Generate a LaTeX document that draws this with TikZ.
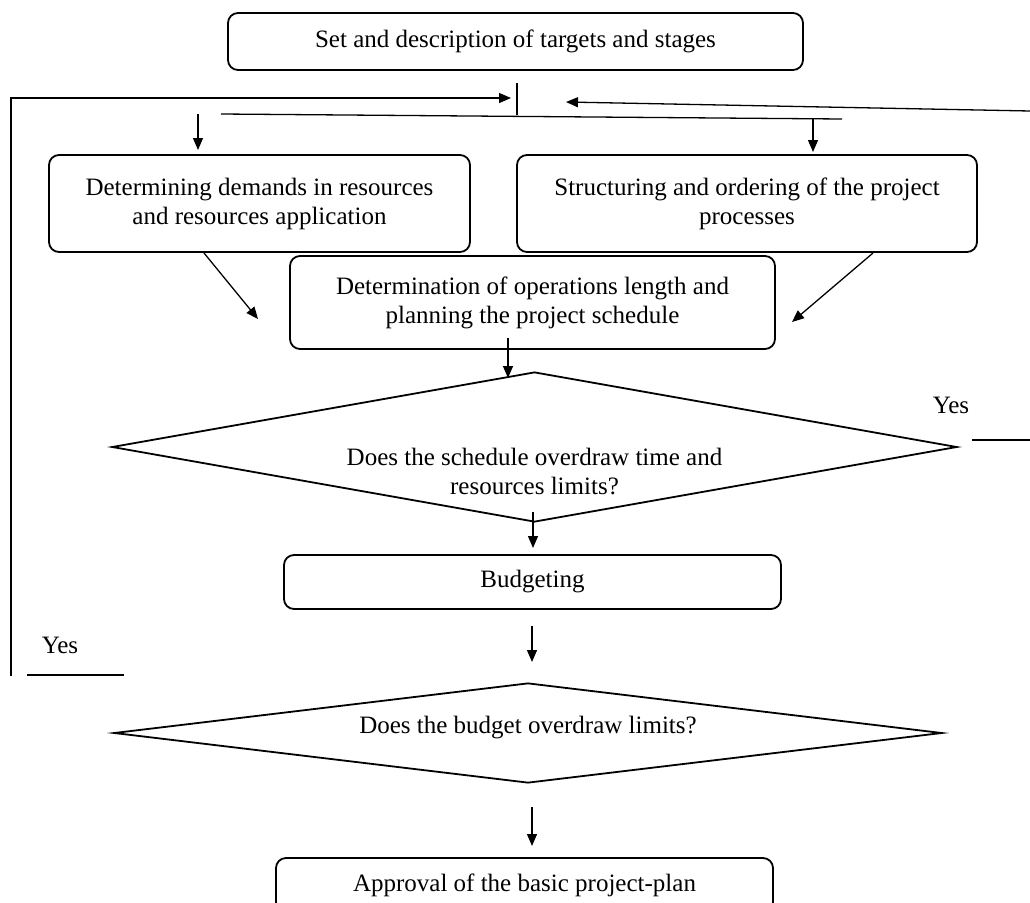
\documentclass[tikz,border=0pt]{standalone}
\usepackage{fontspec}
\setmainfont{Liberation Serif}
\usetikzlibrary{shapes.geometric,arrows.meta}
\begin{document}
\begin{tikzpicture}[x=1pt,y=-1pt,
  box/.style={draw, line width=1.8pt, rounded corners=10pt, align=center,
    inner sep=0pt, font=\fontsize{25}{29}\selectfont},
  txt/.style={align=center, inner sep=0pt, font=\fontsize{25}{29}\selectfont},
  dia/.style={draw, diamond, line width=1.8pt, inner sep=0pt},
  ln/.style={line width=1.3pt},
  arr/.style={ln, -{Triangle[length=12pt,width=10pt]}}]
\clip (0,0) rectangle (1030,902);
\fill[white] (0,0) rectangle (1030,902);

% process boxes
\node[box, minimum width=575pt, minimum height=57pt] (goal) at (515.5,41.5)
  {Set and description of targets and stages};
\node[box, minimum width=421pt, minimum height=97pt] (res) at (259.5,203.5)
  {Determining demands in resources\\and resources application};
\node[box, minimum width=460pt, minimum height=97pt] (struct) at (747,203.5)
  {Structuring and ordering of the project\\processes};
\node[box, minimum width=485pt, minimum height=93pt] (sched) at (532.5,302.5)
  {Determination of operations length and\\planning the project schedule};
\node[box, minimum width=497pt, minimum height=54pt] (budget) at (532.5,582)
  {Budgeting};
\node[box, minimum width=497pt, minimum height=54pt] (approve) at (524.5,885)
  {Approval of the basic project-plan};

% decisions
\node[dia, minimum width=845pt, minimum height=150pt] (q1) at (534.5,447) {};
\node[txt] (q1t) at (534.5,471)
  {Does the schedule overdraw time and\\resources limits?};
\node[dia, minimum width=828pt, minimum height=100pt] (q2) at (528,733) {};
\node[txt] (q2t) at (528,728) {Does the budget overdraw limits?};

% answer labels
\node[txt] (yes1) at (951,405) {Yes};
\node[txt] (yes2) at (60,645) {Yes};

% connector end points
\coordinate (loopB) at (11,676);
\coordinate (loopT) at (11,98);
\coordinate (loopE) at (511,98);
\coordinate (barT) at (517,83);
\coordinate (barB) at (517,115);
\coordinate (splitL) at (221,114);
\coordinate (splitR) at (842,119);
\coordinate (dropLs) at (198,114);
\coordinate (dropLe) at (198,150);
\coordinate (dropRs) at (813,118);
\coordinate (dropRe) at (813,152);
\coordinate (retS) at (1030,111);
\coordinate (retE) at (566,102);
\coordinate (diagLs) at (204,253);
\coordinate (diagLe) at (258,319);
\coordinate (diagRs) at (873,253);
\coordinate (diagRe) at (792,322);
\coordinate (a1s) at (508,338);
\coordinate (a1e) at (508,378);
\coordinate (a2s) at (533,512);
\coordinate (a2e) at (533,548);
\coordinate (a3s) at (532,626);
\coordinate (a3e) at (532,662);
\coordinate (a4s) at (532,807);
\coordinate (a4e) at (532,846);
\coordinate (y1s) at (972,440);
\coordinate (y1e) at (1030,440);
\coordinate (y2s) at (27,675);
\coordinate (y2e) at (124,675);

% connectors
\draw[arr] (loopB) -- (loopT) -- (loopE);
\draw[ln] (barT) -- (barB);
\draw[ln] (splitL) -- (splitR);
\draw[arr] (dropLs) -- (dropLe);
\draw[arr] (dropRs) -- (dropRe);
\draw[arr] (retS) -- (retE);
\draw[arr] (diagLs) -- (diagLe);
\draw[arr] (diagRs) -- (diagRe);
\draw[arr] (a1s) -- (a1e);
\draw[arr] (a2s) -- (a2e);
\draw[arr] (a3s) -- (a3e);
\draw[arr] (a4s) -- (a4e);
\draw[ln] (y1s) -- (y1e);
\draw[ln] (y2s) -- (y2e);
\end{tikzpicture}
\end{document}
